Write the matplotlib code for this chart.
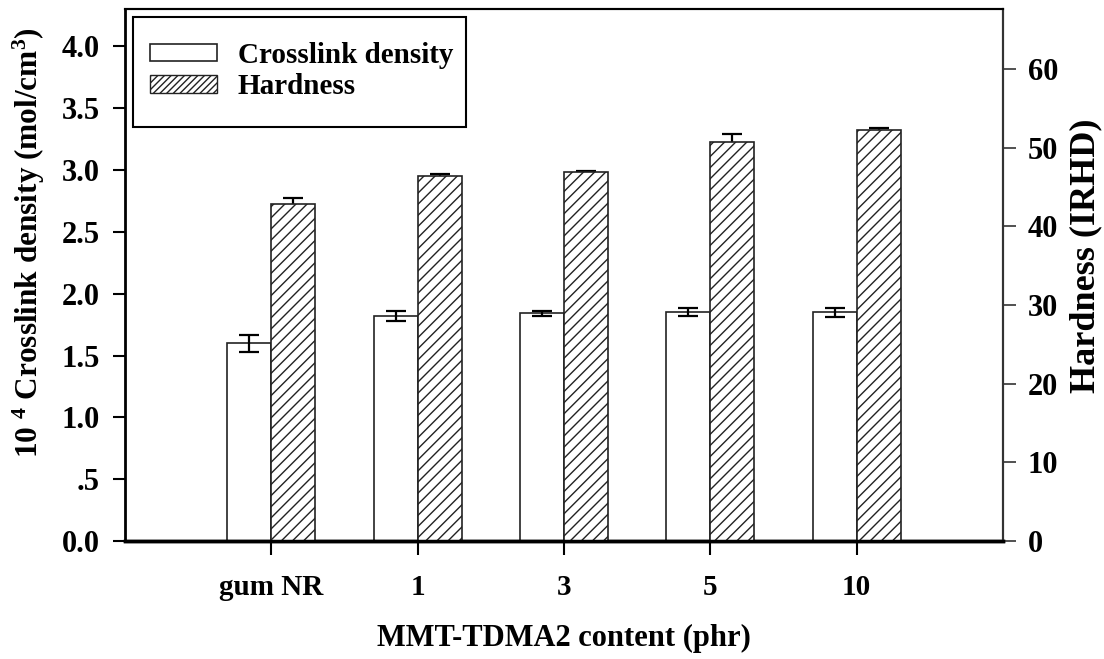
import matplotlib
matplotlib.use("Agg")
import matplotlib.pyplot as plt
import numpy as np
from matplotlib.patches import Patch, Rectangle

categories = ["gum NR", "1", "3", "5", "10"]
crosslink = [1.60, 1.82, 1.84, 1.85, 1.85]
crosslink_err = [0.068, 0.043, 0.02, 0.033, 0.038]
hardness = [42.9, 46.4, 46.9, 50.7, 52.3]
hardness_err = [0.7, 0.2, 0.1, 1.0, 0.2]

plt.rcParams['font.family'] = ['Liberation Serif', 'DejaVu Serif']
plt.rcParams['font.weight'] = 'bold'
plt.rcParams['mathtext.fontset'] = 'custom'
plt.rcParams['mathtext.rm'] = 'Liberation Serif:bold'
plt.rcParams['mathtext.bf'] = 'Liberation Serif:bold'
plt.rcParams['mathtext.it'] = 'Liberation Serif:bold'
plt.rcParams['hatch.linewidth'] = 1.0

fig = plt.figure(figsize=(11.04, 6.59), dpi=100)
ax = fig.add_axes([0.1132, 0.179, 0.7953, 0.807])
ax2 = ax.twinx()

x = np.arange(len(categories))
w = 0.3

ax.bar(x - w / 2, crosslink, width=w, facecolor='white', edgecolor='#222222',
       linewidth=1.2, zorder=2)
ax.errorbar(x - w / 2, crosslink, yerr=crosslink_err, fmt='none', ecolor='black',
            elinewidth=1.6, capsize=7, capthick=1.6, zorder=3)

ax2.errorbar(x + w / 2, hardness, yerr=hardness_err, fmt='none', ecolor='black',
             elinewidth=1.6, capsize=7, capthick=1.6, zorder=1)
ax2.bar(x + w / 2, hardness, width=w, facecolor='white', edgecolor='#222222',
        linewidth=1.2, hatch='///', zorder=2)

ax.set_xlim(-1, 5)
ax.set_ylim(0, 4.30)
ax2.set_ylim(0, 67.6)

ax.set_xticks(x)
ax.set_xticklabels(categories, fontsize=21, fontweight='bold')
ax.set_yticks(np.arange(0, 4.01, 0.5))
ax.set_yticklabels(['0.0', '.5', '1.0', '1.5', '2.0', '2.5', '3.0', '3.5', '4.0'],
                   fontsize=22, fontweight='bold')
ax2.set_yticks(np.arange(0, 61, 10))
ax2.set_yticklabels([str(v) for v in range(0, 61, 10)], fontsize=22, fontweight='bold')

ax.tick_params(axis='x', direction='out', length=10, width=1.5, pad=14)
ax.tick_params(axis='y', direction='out', length=9, width=1.5, pad=9)
ax2.tick_params(axis='y', direction='out', length=9, width=1.2, pad=9, color='#333333')

ax.set_xlabel('MMT-TDMA2 content (phr)', fontsize=22, fontweight='bold', labelpad=16)
ax.set_ylabel('10 $^{4}$ Crosslink density (mol/cm$^{3}$)', fontsize=22.5,
              fontweight='bold')
ax.yaxis.set_label_coords(-0.089, 0.562)
ax2.set_ylabel('Hardness (IRHD)', fontsize=26, fontweight='bold')
ax2.yaxis.set_label_coords(1.075, 0.536)

ax.spines['left'].set_linewidth(2.0)
ax.spines['bottom'].set_linewidth(2.5)
ax.spines['top'].set_linewidth(1.5)
ax.spines['right'].set_linewidth(1.5)
ax2.spines['left'].set_visible(False)
ax2.spines['bottom'].set_linewidth(2.5)
ax2.spines['top'].set_linewidth(1.5)
ax2.spines['right'].set_linewidth(1.5)
ax2.spines['right'].set_color('#333333')

# legend frame
W, H = 1104.0, 659.0
frame = Rectangle((133 / W, 1 - 127 / H), (466 - 133) / W, (127 - 17) / H,
                  transform=fig.transFigure, facecolor='white', edgecolor='black',
                  linewidth=1.5, zorder=4, clip_on=False)
ax2.add_patch(frame)

handles = [Patch(facecolor='white', edgecolor='#222222', linewidth=1.2),
           Patch(facecolor='white', edgecolor='#222222', linewidth=1.0, hatch='/////')]
leg = ax2.legend(handles, ['Crosslink density', 'Hardness'], loc='upper left',
                 bbox_to_anchor=(150 / W, 1 - 42 / H), bbox_transform=fig.transFigure,
                 borderaxespad=0, frameon=False, prop={'size': 21, 'weight': 'bold'},
                 handlelength=2.3, handleheight=0.55, handletextpad=0.7,
                 borderpad=0, labelspacing=0.15)
leg.set_zorder(5)

fig.savefig('out.png', dpi=100)
